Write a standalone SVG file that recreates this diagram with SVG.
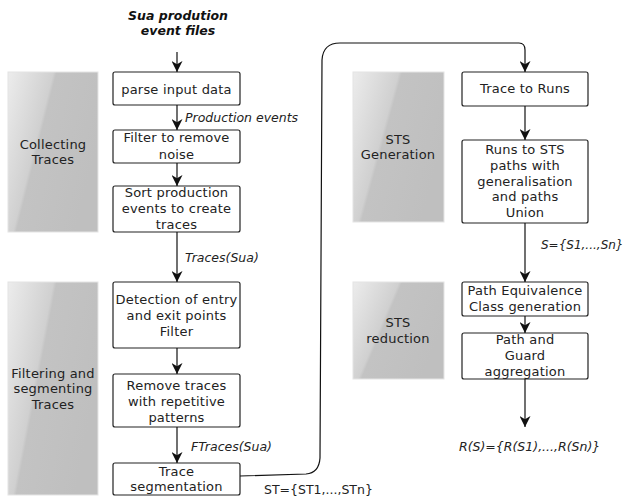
<svg xmlns="http://www.w3.org/2000/svg" width="627" height="500" viewBox="0 0 627 500">
<defs>
<linearGradient id="gloss" x1="0" y1="0" x2="1" y2="0.45">
<stop offset="0" stop-color="#ececec"/>
<stop offset="0.42" stop-color="#d0d0d0"/>
<stop offset="0.45" stop-color="#c3c3c3"/>
<stop offset="1" stop-color="#bfbfbf"/>
</linearGradient>
<marker id="arr" viewBox="0 0 10 10" refX="10" refY="5" markerWidth="11" markerHeight="11" markerUnits="userSpaceOnUse" orient="auto">
<path d="M0,0 L10,5 L0,10 L3,5 Z" fill="#111"/>
</marker>
<style>
.box{fill:#fff;stroke:#222;stroke-width:1.2}
.panel{fill:url(#gloss);stroke:#e4e4e4;stroke-width:1}
.t{font-family:"DejaVu Sans",sans-serif;font-size:13px;letter-spacing:0.2px;fill:#222;text-anchor:middle}
.lbl{font-family:"DejaVu Sans",sans-serif;font-size:12.5px;fill:#222;font-style:italic}
.ttl{font-family:"DejaVu Sans",sans-serif;font-size:12.5px;fill:#111;font-style:italic;font-weight:bold;text-anchor:middle}
.c{fill:none;stroke:#111;stroke-width:1.2;marker-end:url(#arr)}
</style>
</defs>

<g id="panel-collecting">
<rect class="panel" x="8" y="72" width="90" height="160"/>
<text class="t" x="53" y="149">Collecting</text>
<text class="t" x="53" y="164">Traces</text>
</g>
<g id="panel-filtering">
<rect class="panel" x="8" y="282" width="90" height="213"/>
<text class="t" x="53" y="378">Filtering and</text>
<text class="t" x="53" y="393">segmenting</text>
<text class="t" x="53" y="409">Traces</text>
</g>
<g id="panel-stsgen">
<rect class="panel" x="353" y="72" width="91" height="150"/>
<text class="t" x="398" y="144">STS</text>
<text class="t" x="398" y="159">Generation</text>
</g>
<g id="panel-stsred">
<rect class="panel" x="353" y="282" width="91" height="97"/>
<text class="t" x="398" y="327">STS</text>
<text class="t" x="398" y="343">reduction</text>
</g>

<g id="input">
<text class="ttl" x="178" y="20">Sua prodution</text>
<text class="ttl" x="178" y="35">event files</text>
</g>

<g id="parse">
<rect class="box" x="113" y="72" width="127" height="33" rx="2"/>
<text class="t" x="176.5" y="94">parse input data</text>
</g>
<g id="filter">
<rect class="box" x="113" y="130" width="127" height="33" rx="2"/>
<text class="t" x="176.5" y="142">Filter to remove</text>
<text class="t" x="176.5" y="159">noise</text>
</g>
<g id="sort">
<rect class="box" x="113" y="186" width="127" height="46" rx="2"/>
<text class="t" x="176.5" y="197">Sort production</text>
<text class="t" x="176.5" y="213">events to create</text>
<text class="t" x="176.5" y="229">traces</text>
</g>
<g id="detection">
<rect class="box" x="113" y="282" width="127" height="66" rx="2"/>
<text class="t" x="176.5" y="304">Detection of entry</text>
<text class="t" x="176.5" y="320">and exit points</text>
<text class="t" x="176.5" y="336">Filter</text>
</g>
<g id="remove">
<rect class="box" x="113" y="374" width="127" height="53" rx="2"/>
<text class="t" x="176.5" y="390">Remove traces</text>
<text class="t" x="176.5" y="406">with repetitive</text>
<text class="t" x="176.5" y="422">patterns</text>
</g>
<g id="segmentation">
<rect class="box" x="113" y="463" width="127" height="32" rx="2"/>
<text class="t" x="176.5" y="476">Trace</text>
<text class="t" x="176.5" y="491">segmentation</text>
</g>
<g id="traceruns">
<rect class="box" x="462" y="72" width="126" height="34" rx="2"/>
<text class="t" x="525" y="93">Trace to Runs</text>
</g>
<g id="runssts">
<rect class="box" x="462" y="140" width="126" height="83" rx="2"/>
<text class="t" x="525" y="154">Runs to STS</text>
<text class="t" x="525" y="170">paths with</text>
<text class="t" x="525" y="186">generalisation</text>
<text class="t" x="525" y="201">and paths</text>
<text class="t" x="525" y="217">Union</text>
</g>
<g id="pathequiv">
<rect class="box" x="462" y="282" width="126" height="34" rx="2"/>
<text class="t" x="525" y="295">Path Equivalence</text>
<text class="t" x="525" y="311">Class generation</text>
</g>
<g id="pathguard">
<rect class="box" x="462" y="333" width="126" height="46" rx="2"/>
<text class="t" x="525" y="344">Path  and</text>
<text class="t" x="525" y="360">Guard</text>
<text class="t" x="525" y="376">aggregation</text>
</g>

<g id="connectors">
<line class="c" x1="177" y1="52" x2="177" y2="72"/>
<line class="c" x1="177" y1="105" x2="177" y2="130"/>
<line class="c" x1="177" y1="163" x2="177" y2="186"/>
<line class="c" x1="177" y1="232" x2="177" y2="282"/>
<line class="c" x1="177" y1="348" x2="177" y2="374"/>
<line class="c" x1="177" y1="427" x2="177" y2="463"/>
<path class="c" d="M240,476 L306,474 Q319,473 320,458 L322,60 Q323,43 340,43 L519,43 Q525,43 525,50 L525,72"/>
<line class="c" x1="525" y1="106" x2="525" y2="140"/>
<line class="c" x1="525" y1="223" x2="525" y2="282"/>
<line class="c" x1="525" y1="316" x2="525" y2="333"/>
<line class="c" x1="525" y1="379" x2="525" y2="427"/>
<text class="lbl" x="185" y="122">Production events</text>
<text class="lbl" x="185" y="262">Traces(Sua)</text>
<text class="lbl" x="191" y="451">FTraces(Sua)</text>
<text class="lbl" x="264" y="494" style="font-style:normal">ST={ST1,...,STn}</text>
<text class="lbl" x="541" y="249" style="font-size:12px">S={S1,...,Sn}</text>
<text class="lbl" x="459" y="451">R(S)={R(S1),...,R(Sn)}</text>
</g>
</svg>
